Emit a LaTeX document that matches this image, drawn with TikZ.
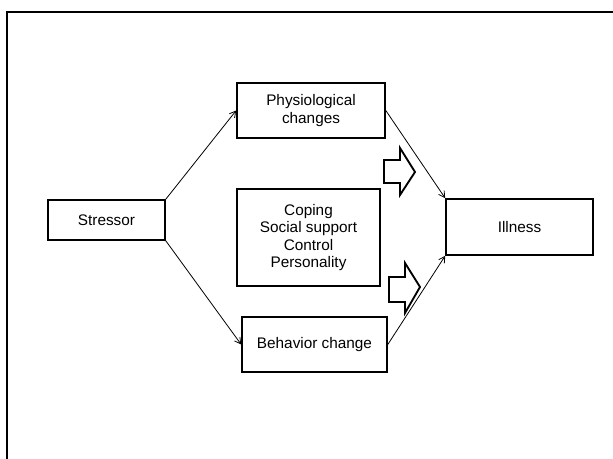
\documentclass[tikz,border=0pt]{standalone}
\usepackage{fontspec}
\setmainfont{Liberation Sans}
\usetikzlibrary{arrows.meta}
\tikzset{every picture/.style={line width=0.75pt}}
\tikzset{
  box/.style={draw, line width=1.2pt, inner sep=0.75pt, align=center, font=\fontsize{11.5}{13.2}\selectfont},
  link/.style={-{Straight Barb[length=4.5pt,width=5pt]}, line width=0.6pt},
  bigarrow/.style={draw, line width=1.4pt, line join=miter}
}

\begin{document}
\begin{tikzpicture}[x=0.75pt,y=0.75pt,yscale=-1,xscale=1]
\useasboundingbox (0,0) rectangle (613,459);

%Shape: Frame
\draw [line width=1.5pt] (7,459) -- (7,12) -- (613,12) ;

% Text Node
\node [box, minimum width=117*0.75pt, minimum height=40*0.75pt] (stressor) at (106.5,220) {Stressor};
% Text Node
\node [box, minimum width=148*0.75pt, minimum height=55*0.75pt] (physio) at (311,110.5) {Physiological\\changes};
% Text Node
\node [box, minimum width=143*0.75pt, minimum height=97*0.75pt] (moderators) at (308.5,237.5) {Coping\\Social support\\Control\\Personality};
% Text Node
\node [box, minimum width=145*0.75pt, minimum height=55*0.75pt] (behavior) at (314.5,344.5) {Behavior change};
% Text Node
\node [box, minimum width=147*0.75pt, minimum height=56*0.75pt] (illness) at (519.5,227) {Illness};

% Connectors
\draw [link] (stressor.north east) -- (physio.west) ;
\draw [link] (stressor.south east) -- (behavior.west) ;
\draw [link] (physio.east) -- (illness.north west) ;
\draw [link] (behavior.east) -- (illness.south west) ;

%Shape: Right Arrow (upper)
\draw [bigarrow] (384,160) -- (400,160) -- (400,148) -- (415,172) -- (400,195) -- (400,183) -- (384,183) -- cycle ;
%Shape: Right Arrow (lower)
\draw [bigarrow] (389,277) -- (405,277) -- (405,263) -- (420,287) -- (405,313) -- (405,302) -- (389,302) -- cycle ;

\end{tikzpicture}
\end{document}
